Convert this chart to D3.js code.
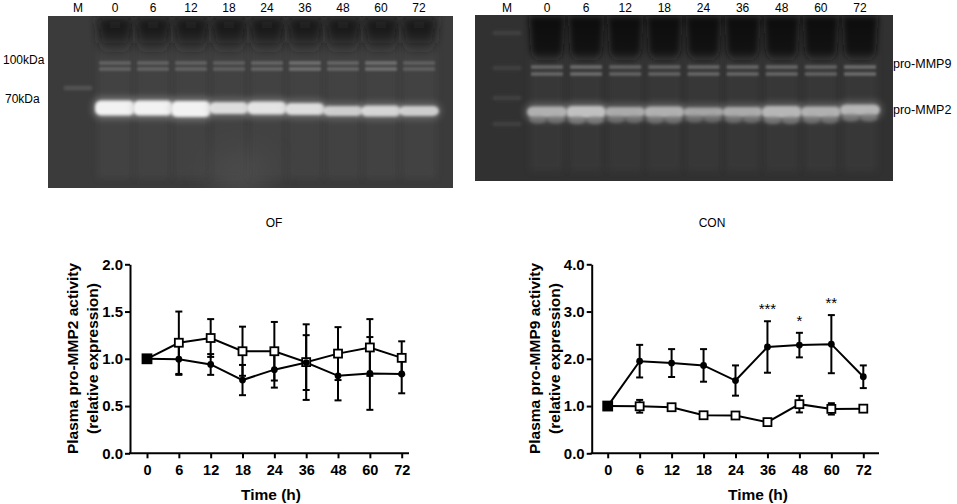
<!DOCTYPE html>
<meta charset="utf-8">
<script src="https://d3js.org/d3.v7.min.js"></script>
<style>
  body { margin: 0; background: #fff; }
  text { font-family: "Liberation Sans", Arial, sans-serif; }
</style>
<div id="fig"></div>
<script>

// ---- data ----
const times = ["0", "6", "12", "18", "24", "36", "48", "60", "72"];

// plasma pro-MMP2 (left panel)
const mmp2Con = [1.00, 1.17, 1.22, 1.08, 1.08, 0.965, 1.055, 1.12, 1.01];
const mmp2ConErr = [0, 0.33, 0.20, 0.26, 0.31, 0.40, 0.28, 0.30, 0.175];
const mmp2Of = [1.00, 0.995, 0.94, 0.775, 0.885, 0.96, 0.82, 0.845, 0.84];
const mmp2OfErr = [0, 0.165, 0.11, 0.16, 0.19, 0.29, 0.26, 0.385, 0.205];

// plasma pro-MMP9 (right panel)
const mmp9Of = [1.00, 1.95, 1.91, 1.86, 1.54, 2.25, 2.29, 2.31, 1.62];
const mmp9OfErr = [0, 0.345, 0.295, 0.345, 0.32, 0.545, 0.26, 0.615, 0.24];
const mmp9Con = [1.00, 0.995, 0.975, 0.805, 0.80, 0.66, 1.04, 0.94, 0.945];
const mmp9ConErr = [0, 0.135, 0.06, 0.05, 0.07, 0.06, 0.175, 0.12, 0.06];
const mmp9Stars = ["", "", "", "", "", "***", "*", "**", ""];

// zymogram lanes: relative band strength per lane
const ofGelMmp2 = [1.0, 1.0, 1.05, 0.85, 0.9, 0.85, 0.75, 0.8, 0.75];
const ofGelMmp9 = [0.3, 0.3, 0.3, 0.28, 0.33, 0.42, 0.33, 0.42, 0.28];
const conGelMmp2 = [0.8, 0.95, 0.75, 0.8, 0.7, 0.75, 0.85, 0.8, 0.85];
const conGelMmp9 = [0.45, 0.5, 0.42, 0.42, 0.45, 0.45, 0.45, 0.42, 0.5];

const W = 957, H = 504;
const svg = d3.select("#fig").append("svg").attr("width", W).attr("height", H);
const defs = svg.append("defs");

[["b1", 0.9], ["b2", 1.6], ["b3", 3], ["b5", 5], ["b12", 14]].forEach(function(f) {
  defs.append("filter").attr("id", f[0])
      .attr("x", "-60%").attr("y", "-60%").attr("width", "220%").attr("height", "220%")
    .append("feGaussianBlur").attr("stdDeviation", f[1]);
});

function wellGradient(id, color, stop) {
  const lg = defs.append("linearGradient").attr("id", id)
    .attr("x1", 0).attr("y1", 0).attr("x2", 0).attr("y2", 1);
  lg.append("stop").attr("offset", 0).attr("stop-color", color).attr("stop-opacity", 1);
  lg.append("stop").attr("offset", stop).attr("stop-color", color).attr("stop-opacity", 0.9);
  lg.append("stop").attr("offset", 1).attr("stop-color", color).attr("stop-opacity", 0);
}
wellGradient("wellOF", "#1a1a1a", 0.45);
wellGradient("wellCON", "#111111", 0.75);

// ---------- gels ----------
function drawGel(o) {
  const g = svg.append("g");
  const lane = d3.scalePoint().domain(times).range(o.laneRange);

  g.append("rect").attr("x", o.x0).attr("y", o.y0)
    .attr("width", o.x1 - o.x0).attr("height", o.y1 - o.y0)
    .attr("fill", o.bg);

  const inner = g.append("g");
  const clip = "clip" + o.name;
  defs.append("clipPath").attr("id", clip).append("rect")
    .attr("x", o.x0).attr("y", o.y0).attr("width", o.x1 - o.x0).attr("height", o.y1 - o.y0);
  inner.attr("clip-path", "url(#" + clip + ")");

  if (o.patch) {
    inner.append("ellipse").attr("cx", o.patch[0]).attr("cy", o.patch[1])
      .attr("rx", o.patch[2]).attr("ry", o.patch[3])
      .attr("fill", "#5a5a5a").attr("opacity", 0.6).attr("filter", "url(#b12)");
  }

  // marker lane
  o.markerBands.forEach(function(yy) {
    inner.append("rect").attr("x", o.markerX - 14).attr("y", yy - 2)
      .attr("width", 28).attr("height", 4).attr("fill", o.markerFill).attr("filter", "url(#b2)");
  });

  times.forEach(function(t, i) {
    const cx = lane(t);
    // lane smear
    inner.append("rect").attr("x", cx - 17).attr("y", o.y0 + 10)
      .attr("width", 34).attr("height", o.y1 - o.y0 - 20)
      .attr("fill", o.laneFill).attr("opacity", 0.55).attr("filter", "url(#b3)");
    // loading well (dark funnel)
    const wt = o.y0 + 1, wb = o.wellBottom;
    inner.append("path")
      .attr("d", `M${cx - 18},${wt}L${cx + 18},${wt}L${cx + 16},${wb - 12}Q${cx + 12},${wb} ${cx},${wb}Q${cx - 12},${wb} ${cx - 16},${wb - 12}Z`)
      .attr("fill", "url(#" + o.wellGrad + ")").attr("filter", "url(#" + o.wellBlur + ")");
    // pro-MMP9 double band
    o.mmp9Y.forEach(function(yy) {
      inner.append("rect").attr("x", cx - 16).attr("y", yy - 1.8)
        .attr("width", 32).attr("height", 3.6)
        .attr("fill", o.mmp9Fill).attr("opacity", o.mmp9[i]).attr("filter", "url(#b1)");
    });
    // pro-MMP2 band
    const h = o.mmp2H[i], yc = o.mmp2Y[i];
    inner.append("rect").attr("x", cx - 23).attr("y", yc - h / 2 - 4)
      .attr("width", 46).attr("height", h + 8).attr("rx", 9)
      .attr("fill", "#cfcfcf").attr("opacity", 0.3 * o.mmp2[i]).attr("filter", "url(#b3)");
    inner.append("rect").attr("x", cx - 20).attr("y", yc - h / 2)
      .attr("width", 40).attr("height", h).attr("rx", 6)
      .attr("fill", o.bandFill).attr("opacity", o.mmp2[i]).attr("filter", "url(#b2)");
    if (o.lobes) {
      [-9, 9].forEach(function(dx) {
        inner.append("ellipse").attr("cx", cx + dx).attr("cy", yc + h / 2 + 2)
          .attr("rx", 9).attr("ry", 4).attr("fill", "#8a8a8a")
          .attr("opacity", 0.7 * o.mmp2[i]).attr("filter", "url(#b2)");
      });
    }
  });

  // lane labels
  g.append("text").attr("x", o.markerX).attr("y", 12).attr("text-anchor", "middle")
    .attr("font-size", 12).text("M");
  times.forEach(function(t) {
    g.append("text").attr("x", lane(t)).attr("y", 12).attr("text-anchor", "middle")
      .attr("font-size", 12).text(t);
  });
  g.append("text").attr("x", o.captionX).attr("y", 227).attr("text-anchor", "middle")
    .attr("font-size", 12).text(o.name);
}

drawGel({
  name: "OF", x0: 48, x1: 453, y0: 16, y1: 188,
  laneRange: [115, 419], markerX: 78, markerBands: [88], markerFill: "#555",
  bg: "#3b3b3b", laneFill: "#4a4a4a", wellGrad: "wellOF", wellBlur: "b5", wellBottom: 56,
  bandFill: "#f2f2f2", mmp2: ofGelMmp2, mmp9: ofGelMmp9, mmp9Fill: "#b0b0b0",
  mmp2Y: [108, 108, 109, 108, 108, 109, 111, 111, 111],
  mmp2H: [15, 15, 16, 12, 13, 12, 10, 11, 10],
  mmp9Y: [63, 69], patch: [240, 172, 30, 22], lobes: false,
  captionX: 274
});

drawGel({
  name: "CON", x0: 475, x1: 893, y0: 15, y1: 181,
  laneRange: [547, 860], markerX: 507, markerBands: [33, 68, 98, 124], markerFill: "#424242",
  bg: "#313131", laneFill: "#3c3c3c", wellGrad: "wellCON", wellBlur: "b3", wellBottom: 64,
  bandFill: "#c6c6c6", mmp2: conGelMmp2, mmp9: conGelMmp9, mmp9Fill: "#a0a0a0",
  mmp2Y: [112, 112, 112, 112, 112, 112, 112, 112, 110],
  mmp2H: [11, 12, 10, 11, 9, 10, 12, 11, 11],
  mmp9Y: [67, 74], patch: null, lobes: true,
  captionX: 712
});

svg.append("text").attr("x", 3).attr("y", 64).attr("font-size", 12).text("100kDa");
svg.append("text").attr("x", 5).attr("y", 103).attr("font-size", 12).text("70kDa");
svg.append("text").attr("x", 893).attr("y", 68).attr("font-size", 12.5).text("pro-MMP9");
svg.append("text").attr("x", 893).attr("y", 114).attr("font-size", 12.5).text("pro-MMP2");

// ---------- line charts ----------
function drawChart(o) {
  const g = svg.append("g");
  const x = d3.scalePoint().domain(times).range(o.xRange);
  const y = d3.scaleLinear().domain([0, o.yMax]).range([453.3, 264.3]);

  const ya = g.append("g").attr("transform", `translate(${o.axisX},0)`)
    .call(d3.axisLeft(y).tickValues(o.yTicks).tickFormat(d3.format(".1f"))
      .tickSize(5).tickSizeOuter(0).tickPadding(2));
  const xa = g.append("g").attr("transform", `translate(0,${y(0)})`)
    .call(d3.axisBottom(x).tickSize(5).tickSizeOuter(0).tickPadding(6));
  xa.select(".domain").remove();
  xa.append("line").attr("x1", o.axisX - 1).attr("x2", o.axisEnd)
    .attr("stroke", "#000").attr("stroke-width", 2);
  [ya, xa].forEach(function(a) {
    a.selectAll("path, line").attr("stroke", "#000").attr("stroke-width", 2);
    a.selectAll("text").attr("fill", "#000").attr("font-weight", "bold")
      .attr("font-family", "'Liberation Sans', Arial, sans-serif");
  });
  ya.selectAll("text").attr("font-size", 15);
  xa.selectAll("text").attr("font-size", 14.5);

  const line = d3.line().x(function(d, i) { return x(times[i]); }).y(function(d) { return y(d); });

  o.series.forEach(function(s) {
    g.append("path").datum(s.mean).attr("d", line)
      .attr("fill", "none").attr("stroke", "#000").attr("stroke-width", 2);
  });

  o.series.forEach(function(s) {
    s.mean.forEach(function(m, i) {
      const e = s.err[i];
      if (!e) return;
      const cx = x(times[i]);
      g.append("line").attr("x1", cx).attr("x2", cx).attr("y1", y(m - e)).attr("y2", y(m + e))
        .attr("stroke", "#000").attr("stroke-width", 2);
      [m - e, m + e].forEach(function(v) {
        g.append("line").attr("x1", cx - 3.5).attr("x2", cx + 3.5).attr("y1", y(v)).attr("y2", y(v))
          .attr("stroke", "#000").attr("stroke-width", 2);
      });
    });
  });

  o.series.forEach(function(s) {
    s.mean.forEach(function(m, i) {
      const cx = x(times[i]), cy = y(m);
      if (s.shape === "square") {
        const first = i === 0;
        const sz = first ? 9 : 8;
        g.append("rect").attr("x", cx - sz / 2).attr("y", cy - sz / 2)
          .attr("width", sz).attr("height", sz)
          .attr("fill", first ? "#000" : "#fff").attr("stroke", "#000").attr("stroke-width", 1.8);
      } else {
        g.append("circle").attr("cx", cx).attr("cy", cy).attr("r", 3.4).attr("fill", "#000");
      }
    });
  });

  if (o.stars) {
    o.stars.forEach(function(st, i) {
      if (!st) return;
      const s = o.series[0];
      g.append("text").attr("x", x(times[i])).attr("y", y(s.mean[i] + s.err[i]) - 7)
        .attr("text-anchor", "middle").attr("font-size", 15).text(st);
    });
  }

  const tx = o.axisX - 57;
  g.append("text").attr("transform", `translate(${tx + 5},358.5) rotate(-90)`)
    .attr("text-anchor", "middle").attr("font-size", 15.5).attr("font-weight", "bold")
    .text(o.title);
  g.append("text").attr("transform", `translate(${tx + 25},358.5) rotate(-90)`)
    .attr("text-anchor", "middle").attr("font-size", 15.5).attr("font-weight", "bold")
    .text("(relative expression)");
  g.append("text").attr("x", o.xTitleX).attr("y", 500).attr("text-anchor", "middle")
    .attr("font-size", 15.5).attr("font-weight", "bold").text("Time (h)");
}

drawChart({
  axisX: 130, axisEnd: 409, xRange: [147, 401.7],
  yMax: 2, yTicks: [0, 0.5, 1, 1.5, 2],
  title: "Plasma pro-MMP2 activity", xTitleX: 271,
  series: [
    { mean: mmp2Con, err: mmp2ConErr, shape: "square" },
    { mean: mmp2Of, err: mmp2OfErr, shape: "circle" }
  ]
});

drawChart({
  axisX: 591.7, axisEnd: 879, xRange: [607.7, 863.3],
  yMax: 4, yTicks: [0, 1, 2, 3, 4],
  title: "Plasma pro-MMP9 activity", xTitleX: 758,
  series: [
    { mean: mmp9Of, err: mmp9OfErr, shape: "circle" },
    { mean: mmp9Con, err: mmp9ConErr, shape: "square" }
  ],
  stars: mmp9Stars
});

</script>
